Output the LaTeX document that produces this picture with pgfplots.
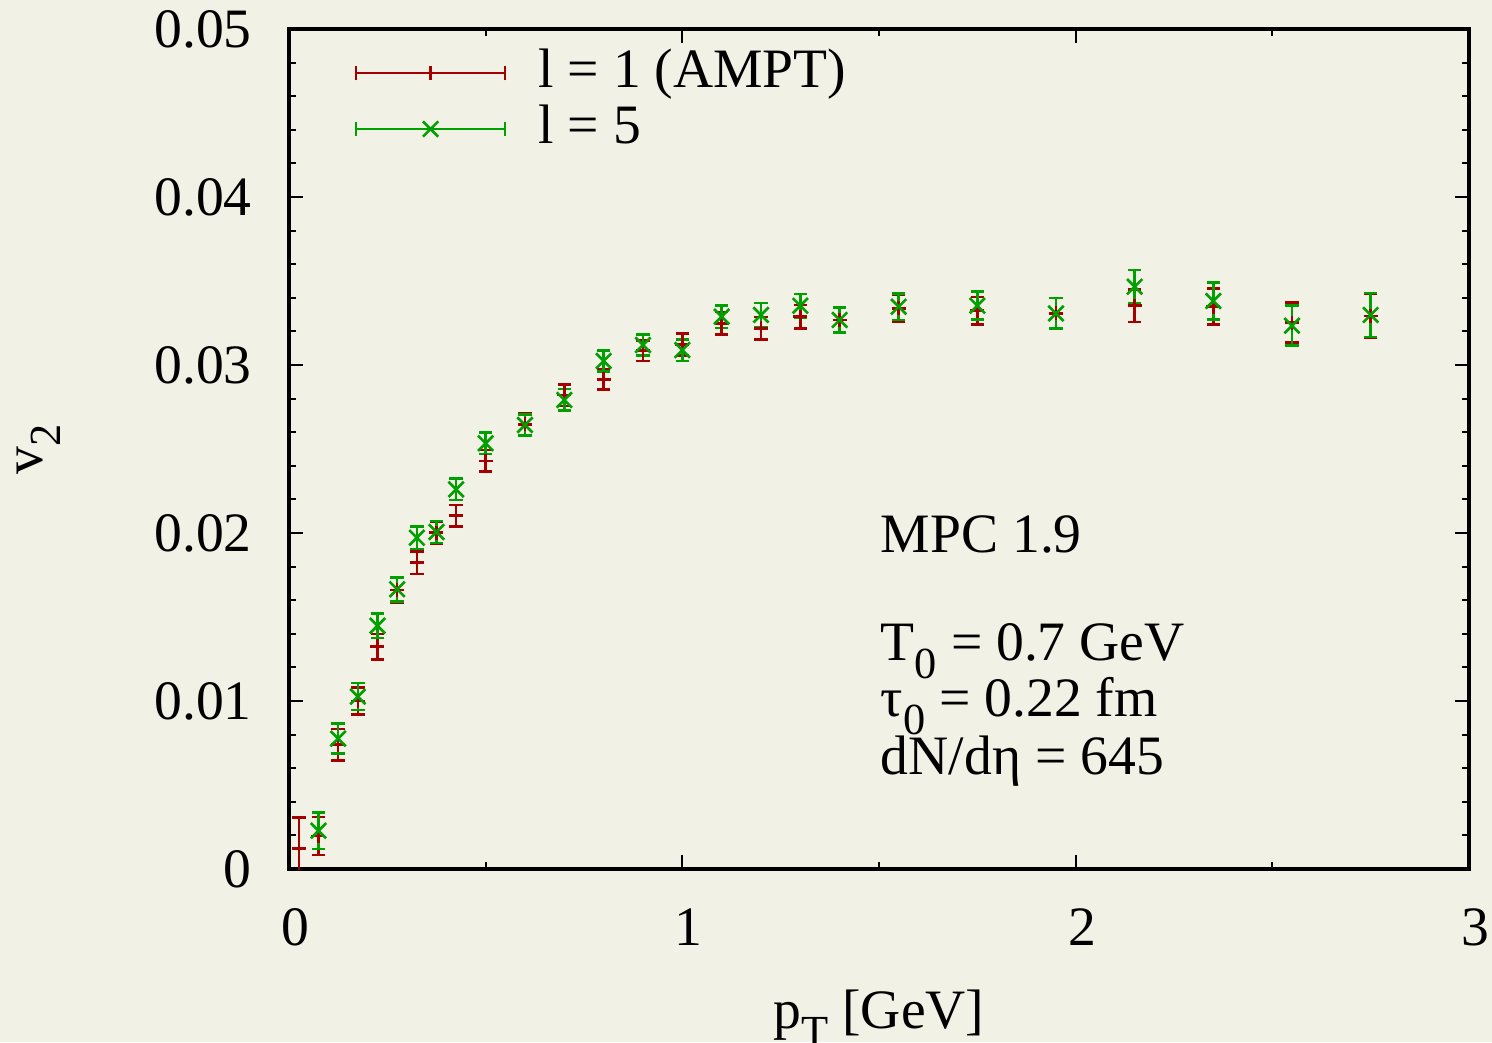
\documentclass[border=0pt]{standalone}
\usepackage{pgfplots}
\usepackage{pgfplotstable}
\pgfplotsset{compat=1.18}
\usepackage{fontspec}
\setmainfont{Liberation Serif}
\definecolor{bg}{RGB}{242,241,230}
\definecolor{cred}{RGB}{165,0,0}
\definecolor{cgreen}{RGB}{0,160,0}
\newcommand\sub[1]{\raisebox{-4.5pt}{\fontsize{11.1}{11}\selectfont #1}}

\pgfplotstableread{
x y e
0.025 0.00123 0.00185
0.075 0.00196 0.00113
0.125 0.00740 0.00093
0.175 0.01000 0.00081
0.225 0.01323 0.00075
0.275 0.01661 0.00074
0.325 0.01823 0.00068
0.375 0.02002 0.00066
0.425 0.02103 0.00064
0.5 0.02429 0.00064
0.6 0.02647 0.00063
0.7 0.02821 0.00064
0.8 0.02915 0.00062
0.9 0.03085 0.00062
1.0 0.03123 0.00065
1.1 0.03248 0.00068
1.2 0.03218 0.00067
1.3 0.03288 0.00070
1.4 0.03268 0.00073
1.55 0.03337 0.00080
1.75 0.03323 0.00082
1.95 0.03307 0.00091
2.15 0.03353 0.00097
2.35 0.03347 0.00107
2.55 0.03252 0.00119
2.75 0.03292 0.00131
}\redtab

\pgfplotstableread{
x y e
0.075 0.00228 0.00109
0.125 0.00776 0.00090
0.175 0.01026 0.00080
0.225 0.01448 0.00073
0.275 0.01665 0.00071
0.325 0.01972 0.00068
0.375 0.02006 0.00066
0.425 0.02260 0.00064
0.5 0.02534 0.00063
0.6 0.02643 0.00063
0.7 0.02792 0.00064
0.8 0.03024 0.00062
0.9 0.03119 0.00064
1.0 0.03089 0.00064
1.1 0.03288 0.00067
1.2 0.03298 0.00071
1.3 0.03353 0.00070
1.4 0.03268 0.00073
1.55 0.03347 0.00080
1.75 0.03353 0.00083
1.95 0.03307 0.00091
2.15 0.03466 0.00100
2.35 0.03381 0.00109
2.55 0.03234 0.00119
2.75 0.03298 0.00131
}\greentab

\begin{document}
\fontsize{13.9}{16}\selectfont
\begin{tikzpicture}
\fill[bg] (-72.25pt,-43.25pt) rectangle (300.75pt,217.25pt);
\begin{axis}[name=ax, at={(0pt,0pt)}, anchor=south west, scale only axis, width=295pt, height=210pt,
  xmin=0, xmax=3, ymin=0, ymax=0.05,
  xtick={0,1,2,3}, xticklabels={0,1,2,3}, minor x tick num=1,
  ytick={0,0.01,0.02,0.03,0.04,0.05},
  yticklabels={0,0.01,0.02,0.03,0.04,0.05}, minor y tick num=4,
  scaled y ticks=false,
  tick align=inside, major tick length=3.5pt, minor tick length=1.8pt,
  every tick/.style={black, line width=0.5pt},
  axis line style={line width=0.8pt},
  yticklabel style={xshift=-4.5pt},
  xticklabel style={yshift=-5pt, xshift=1.6pt},
  xlabel={p\sub{T} [GeV]}, ylabel={v\sub{2}},
  xlabel style={at={(axis description cs:0.5,-0.1893)}, anchor=base},
  ylabel style={at={(axis description cs:-0.2093,0.5)}, anchor=base},
  legend cell align=left,
  legend style={draw=none, fill=none, at={(axis description cs:0.0450,0.989)}, anchor=north west,
    nodes={inner sep=0pt, text height=10pt, text depth=3pt}, row sep=1pt,
    /tikz/every odd column/.append style={column sep=8pt}},
  legend image code/.code={
    \draw[#1,mark=none] (0pt,0pt) -- (37.25pt,0pt);
    \draw[#1,mark=none] (0pt,-1.8pt) -- (0pt,1.8pt);
    \draw[#1,mark=none] (37.25pt,-1.8pt) -- (37.25pt,1.8pt);
    \draw[#1] plot coordinates {(18.6pt,0pt)};
  },
]
\addplot[cred, only marks, mark=+, mark size=1.75pt, line width=0.65pt,
  error bars/.cd, y dir=both, y explicit,
  error bar style={line width=0.65pt, cred},
  error mark options={cred, mark size=1.7pt, line width=0.65pt, rotate=90}]
  table[x=x, y=y, y error=e] {\redtab};
\addlegendentry{l = 1 (AMPT)}
\addplot[cgreen, only marks, mark=x, mark size=2.7pt, line width=0.65pt,
  error bars/.cd, y dir=both, y explicit,
  error bar style={line width=0.65pt, cgreen},
  error mark options={cgreen, mark size=1.7pt, line width=0.65pt, rotate=90}]
  table[x=x, y=y, y error=e] {\greentab};
\addlegendentry{l = 5}
\node[anchor=base west, inner sep=0pt] at (axis cs:1.503,0.01881) {MPC 1.9};
\node[anchor=base west, inner sep=0pt] at (axis cs:1.503,0.01244) {T\sub{0} = 0.7 GeV};
\node[anchor=base west, inner sep=0pt] at (axis cs:1.503,0.00905) {τ\sub{0} = 0.22 fm};
\node[anchor=base west, inner sep=0pt] at (axis cs:1.503,0.00565) {dN/dη = 645};
\end{axis}
\pgfresetboundingbox
\path[use as bounding box] (-72.25pt,-43.25pt) rectangle (300.75pt,217.25pt);
\end{tikzpicture}
\end{document}
